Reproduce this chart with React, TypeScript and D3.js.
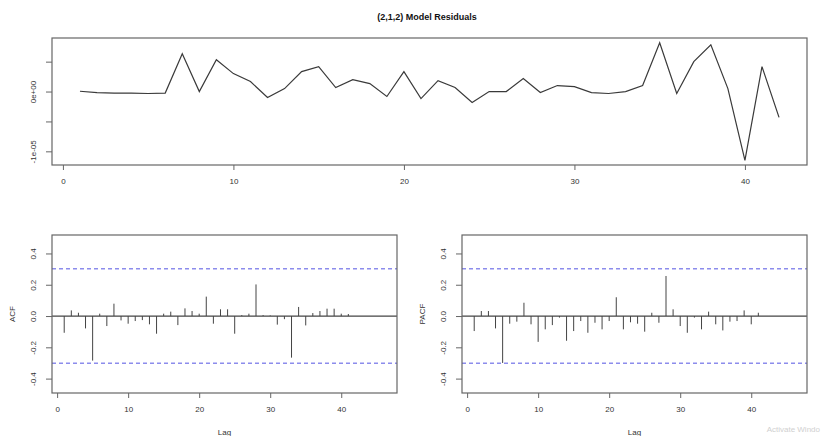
import React, { useRef, useEffect } from 'react';
import * as d3 from 'd3';

const title = "(2,1,2) Model Residuals";

// residuals, in units of 1e-6
const residualUnit = 1e-6;
const residuals = [
  0.05, -0.17, -0.25, -0.25, -0.33, -0.25, 6.33, 0.0, 5.33, 3.0,
  1.67, -1.0, 0.5, 3.33, 4.17, 0.67, 2.0, 1.33, -0.83, 3.33,
  -1.17, 1.83, 0.67, -1.83, 0.0, 0.0, 2.17, -0.17, 1.0, 0.83,
  -0.17, -0.33, 0.0, 1.0, 8.17, -0.33, 5.0, 7.83, 0.5, -11.5,
  4.17, -4.33,
];

// lags 1..41
const acfValues = [
  -0.107, 0.036, 0.021, -0.079, -0.285, 0.015, -0.064, 0.079, -0.028, -0.049,
  -0.032, -0.026, -0.053, -0.113, 0.015, 0.028, -0.058, 0.049, 0.032, 0.015,
  0.124, -0.049, 0.043, 0.043, -0.113, 0.006, 0.015, 0.202, 0.006, 0.004,
  -0.055, -0.02, -0.266, 0.058, -0.06, 0.019, 0.032, 0.047, 0.047, 0.015,
  0.013,
];

const pacfValues = [
  -0.096, 0.032, 0.032, -0.079, -0.300, -0.049, -0.036, 0.085, -0.053, -0.165,
  -0.085, -0.058, -0.01, -0.158, -0.096, -0.032, -0.107, -0.043, -0.085, -0.032,
  0.12, -0.085, -0.04, -0.049, -0.10, 0.021, -0.043, 0.256, 0.043, -0.064,
  -0.107, -0.01, -0.085, 0.028, -0.053, -0.092, -0.036, -0.032, 0.036, -0.053,
  0.021,
];

const nObs = 42;
const timeTicks = [0, 10, 20, 30, 40];
const residTicks = [-1e-5, -5e-6, 0, 5e-6];
const residTickLabels = ["-1e-05", "", "0e+00", ""];
const lagTicks = [0, 10, 20, 30, 40];
const corrTicks = [-0.4, -0.2, 0, 0.2, 0.4];
const corrTickLabels = ["-0.4", "-0.2", "0.0", "0.2", "0.4"];

const FONT = "'Liberation Sans', Arial, sans-serif";
const INK = "#333";
const BOX = "#666";
const CI_BLUE = "#4040e0";

const App = () => {
  const svgRef = useRef(null);

  useEffect(() => {
    const svg = d3.select(svgRef.current);
    svg.selectAll("*").remove();
    svg.attr("width", 822).attr("height", 436).style("font-family", FONT);

    const bottomAxis = (g, x, y, ticks) => {
      const ax = g.append("g")
        .attr("transform", `translate(0,${y})`)
        .call(d3.axisBottom(x).tickValues(ticks).tickSize(5).tickPadding(8).tickFormat(d3.format("d")));
      ax.select(".domain").remove();
      ax.selectAll("line").attr("stroke", BOX);
      ax.selectAll("text").attr("font-size", 8).attr("font-family", FONT).attr("fill", INK);
    };

    const leftAxis = (g, y, x, ticks, labels) => {
      const ax = g.append("g")
        .attr("transform", `translate(${x},0)`)
        .call(d3.axisLeft(y).tickValues(ticks).tickSize(6).tickFormat((d, i) => labels[i]));
      ax.select(".domain").remove();
      ax.selectAll("line").attr("stroke", BOX);
      ax.selectAll("text")
        .attr("font-size", 8).attr("font-family", FONT).attr("fill", INK)
        .attr("text-anchor", "middle")
        .attr("dy", 0).attr("x", 0).attr("y", -16)
        .attr("transform", "rotate(-90)");
    };

    // title
    svg.append("text")
      .attr("x", 427).attr("y", 20)
      .attr("text-anchor", "middle")
      .attr("font-size", 9).attr("font-weight", "bold").attr("fill", "#111")
      .text(title);

    // ---- residual series ----
    const top = { left: 52, right: 807, top: 38, bottom: 165 };
    const tPad = 0.04 * (nObs - 1);
    const xT = d3.scaleLinear().domain([1 - tPad, nObs + tPad]).range([top.left, top.right]);
    const vals = residuals.map(d => d * residualUnit);
    const [vmin, vmax] = d3.extent(vals);
    const vPad = 0.04 * (vmax - vmin);
    const yT = d3.scaleLinear().domain([vmin - vPad, vmax + vPad]).range([top.bottom, top.top]);

    const gTop = svg.append("g");
    gTop.append("path")
      .datum(vals)
      .attr("fill", "none").attr("stroke", "#3a3a3a").attr("stroke-width", 1.2)
      .attr("d", d3.line().x((d, i) => xT(i + 1)).y(d => yT(d)));
    gTop.append("rect")
      .attr("x", top.left).attr("y", top.top)
      .attr("width", top.right - top.left).attr("height", top.bottom - top.top)
      .attr("fill", "none").attr("stroke", BOX).attr("stroke-width", 1.2);
    bottomAxis(gTop, xT, top.bottom, timeTicks);
    leftAxis(gTop, yT, top.left, residTicks, residTickLabels);

    // ---- correlograms ----
    const ci = 1.96 / Math.sqrt(nObs);
    const corrPanel = (left, right, values, label) => {
      const p = { left, right, top: 235, bottom: 393 };
      const x = d3.scaleLinear().domain([-0.72, 47.85]).range([p.left, p.right]);
      const y = d3.scaleLinear().domain([-0.492, 0.518]).range([p.bottom, p.top]);
      const g = svg.append("g");

      g.append("line")
        .attr("class", "zero")
        .attr("x1", p.left).attr("x2", p.right).attr("y1", y(0)).attr("y2", y(0))
        .attr("stroke", "#444").attr("stroke-width", 1.2);
      g.selectAll("line.ci")
        .data([ci, -ci])
        .enter().append("line")
        .attr("class", "ci")
        .attr("x1", p.left).attr("x2", p.right)
        .attr("y1", d => y(d)).attr("y2", d => y(d))
        .attr("stroke", CI_BLUE).attr("stroke-opacity", 0.6)
        .attr("stroke-width", 1.5).attr("stroke-dasharray", "4,3");
      g.selectAll("line.bar")
        .data(values)
        .enter().append("line")
        .attr("class", "bar")
        .attr("x1", (d, i) => x(i + 1)).attr("x2", (d, i) => x(i + 1))
        .attr("y1", y(0)).attr("y2", d => y(d))
        .attr("stroke", "#444").attr("stroke-width", 1);
      g.append("rect")
        .attr("x", p.left).attr("y", p.top)
        .attr("width", p.right - p.left).attr("height", p.bottom - p.top)
        .attr("fill", "none").attr("stroke", BOX).attr("stroke-width", 1.2);

      bottomAxis(g, x, p.bottom, lagTicks);
      leftAxis(g, y, p.left, corrTicks, corrTickLabels);

      g.append("text")
        .attr("x", (p.left + p.right) / 2).attr("y", 435)
        .attr("text-anchor", "middle").attr("font-size", 8).attr("fill", INK)
        .text("Lag");
      g.append("text")
        .attr("transform", `translate(${p.left - 37},${(p.top + p.bottom) / 2}) rotate(-90)`)
        .attr("text-anchor", "middle").attr("font-size", 8).attr("fill", INK)
        .text(label);
    };

    corrPanel(52, 397, acfValues, "ACF");
    corrPanel(462, 807, pacfValues, "PACF");

    svg.append("text")
      .attr("x", 820).attr("y", 432)
      .attr("text-anchor", "end").attr("font-size", 8).attr("fill", "#d0d0d0")
      .text("Activate Windo");
  }, []);

  return (
    <div>
      <svg ref={svgRef} style={{ position: 'absolute', left: 0, top: 0, background: '#fff' }}></svg>
    </div>
  );
};

export default App;
